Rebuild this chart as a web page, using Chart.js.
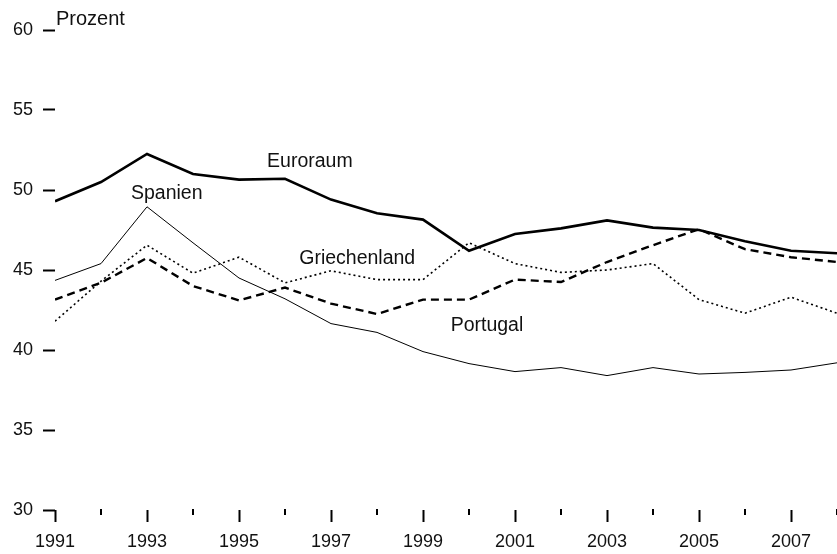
<!DOCTYPE html>
<html>
<head>
<meta charset="utf-8">
<script src="https://cdn.jsdelivr.net/npm/chart.js@4"></script>
<style>
  html, body { margin: 0; padding: 0; background: #fff; }
  #wrap { width: 837px; height: 554px; }
</style>
</head>
<body>
<div id="wrap"><canvas id="chart" width="837" height="554"></canvas></div>
<script>
const years = [1991, 1992, 1993, 1994, 1995, 1996, 1997, 1998, 1999, 2000, 2001, 2002, 2003, 2004, 2005, 2006, 2007, 2008];
const euroraum = [49.3, 50.5, 52.25, 51.0, 50.65, 50.7, 49.4, 48.55, 48.15, 46.2, 47.25, 47.6, 48.1, 47.65, 47.5, 46.8, 46.2, 46.05];
const spanien = [44.35, 45.4, 48.95, 46.7, 44.5, 43.2, 41.65, 41.1, 39.9, 39.15, 38.65, 38.9, 38.4, 38.9, 38.5, 38.6, 38.75, 39.2];
const griechenland = [41.8, 44.3, 46.55, 44.8, 45.8, 44.2, 44.95, 44.4, 44.4, 46.7, 45.4, 44.85, 45.0, 45.4, 43.15, 42.3, 43.3, 42.3];
const portugal = [43.15, 44.2, 45.75, 44.0, 43.1, 43.9, 42.9, 42.25, 43.15, 43.15, 44.4, 44.25, 45.5, 46.55, 47.55, 46.3, 45.8, 45.5];
const yTicks = [30, 35, 40, 45, 50, 55, 60];

// text labels placed in data coordinates
const seriesLabels = [
    { text: 'Euroraum', x: 1996.54, y: 51.8 },
    { text: 'Spanien', x: 1993.43, y: 49.75 },
    { text: 'Griechenland', x: 1997.57, y: 45.7 },
    { text: 'Portugal', x: 2000.39, y: 41.5 }
];

function pts(arr) {
    return years.map((yr, i) => ({ x: yr, y: arr[i] }));
}

const labelPlugin = {
    id: 'labels',
    afterDraw(chart) {
        const c = chart.ctx;
        const xs = chart.scales.x;
        const ys = chart.scales.y;
        c.save();
        // minor ticks for even years
        c.strokeStyle = '#000';
        c.lineWidth = 2;
        years.forEach(yr => {
            if (yr % 2 === 0) {
                const px = Math.round(xs.getPixelForValue(yr));
                c.beginPath();
                c.moveTo(px, ys.bottom - 1);
                c.lineTo(px, ys.bottom + 5);
                c.stroke();
            }
        });
        c.fillStyle = '#111';
        c.font = '19.5px "Liberation Sans", Arial, sans-serif';
        c.textBaseline = 'middle';
        c.textAlign = 'center';
        seriesLabels.forEach(l => {
            c.fillText(l.text, xs.getPixelForValue(l.x), ys.getPixelForValue(l.y));
        });
        c.textAlign = 'left';
        c.font = '20px "Liberation Sans", Arial, sans-serif';
        c.fillText('Prozent', xs.left + 1, ys.getPixelForValue(60) - 11);
        c.restore();
    }
};

const ctx = document.getElementById('chart');
const chart = new Chart(ctx, {
    type: 'line',
    data: {
        datasets: [
            { label: 'Euroraum', data: pts(euroraum), borderColor: '#000', borderWidth: 2.6 },
            { label: 'Spanien', data: pts(spanien), borderColor: '#000', borderWidth: 1 },
            { label: 'Griechenland', data: pts(griechenland), borderColor: '#000', borderWidth: 1.6, borderDash: [2, 3] },
            { label: 'Portugal', data: pts(portugal), borderColor: '#000', borderWidth: 2.4, borderDash: [8, 5] }
        ]
    },
    options: {
        responsive: false,
        animation: false,
        elements: {
            point: { radius: 0 },
            line: { tension: 0, borderCapStyle: 'butt', borderJoinStyle: 'miter' }
        },
        layout: { padding: { top: 30, left: 0, right: 0, bottom: 0 } },
        plugins: {
            legend: { display: false },
            tooltip: { enabled: false }
        },
        scales: {
            x: {
                type: 'linear',
                min: 1991,
                max: 2008,
                afterBuildTicks(s) {
                    s.ticks = years.map(v => ({ value: v }));
                },
                afterFit(s) {
                    s.height = 44;
                    s.paddingRight = 0;
                },
                border: { display: false },
                grid: {
                    drawOnChartArea: false,
                    tickLength: 12,
                    tickWidth: 2,
                    tickColor: c => (c.tick && c.tick.value % 2 === 1) ? '#000' : 'rgba(0,0,0,0)'
                },
                ticks: {
                    autoSkip: false,
                    maxRotation: 0,
                    padding: 9,
                    color: '#111',
                    font: { family: '"Liberation Sans", Arial, sans-serif', size: 18 },
                    callback: v => (v % 2 === 1 ? String(v) : '')
                }
            },
            y: {
                min: 30,
                max: 60,
                afterBuildTicks(s) {
                    s.ticks = yTicks.map(v => ({ value: v }));
                },
                afterFit(s) { s.width = 55; },
                border: { display: false },
                grid: {
                    drawOnChartArea: false,
                    tickLength: 12,
                    tickWidth: 2,
                    tickColor: '#000'
                },
                ticks: {
                    padding: 10,
                    color: '#111',
                    font: { family: '"Liberation Sans", Arial, sans-serif', size: 18 }
                }
            }
        }
    },
    plugins: [labelPlugin]
});
</script>
</body>
</html>
